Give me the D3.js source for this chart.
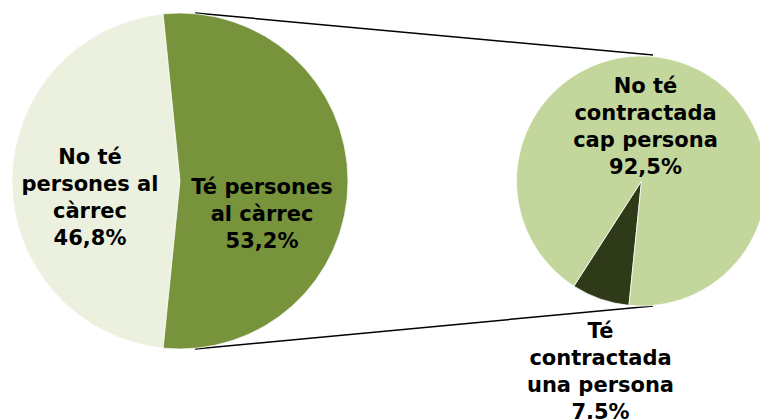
<!DOCTYPE html>
<html>
<head>
<meta charset="utf-8">
<script src="https://cdn.jsdelivr.net/npm/d3@7"></script>
<style>
  body { margin: 0; background: #fff; }
  text { font-family: "DejaVu Sans", Verdana, sans-serif; font-weight: bold; font-size: 21px; fill: #000; }
</style>
</head>
<body>
<div class="chart"></div>
<script>
// first pie
const mainCategories = ["No té persones al càrrec", "Té persones al càrrec"];
const mainValues = [46.8, 53.2];
const mainLabels = [["No té", "persones al", "càrrec", "46,8%"], ["Té persones", "al càrrec", "53,2%"]];

// second pie (breakdown of "Té persones al càrrec")
const subCategories = ["Té contractada una persona", "No té contractada cap persona"];
const subValues = [7.5, 92.5];
const subLabels = [["Té", "contractada", "una persona", "7,5%"], ["No té", "contractada", "cap persona", "92,5%"]];

document.addEventListener("DOMContentLoaded", () => {
    const width = 760;
    const height = 419;
    const lineH = 27;
    const startAngle = 185.75 * Math.PI / 180;

    const svg = d3.select(".chart")
        .append("svg")
        .attr("width", width)
        .attr("height", height);

    const pie = d3.pie()
        .sort(null)
        .value(d => d)
        .startAngle(startAngle)
        .endAngle(startAngle + 2 * Math.PI);

    const main = { cx: 180, cy: 181, r: 168, colors: ["#EBF1DE", "#77933C"] };
    const sub = { cx: 641.5, cy: 181, r: 125, colors: ["#2F3A19", "#C3D69B"] };

    // connector lines between the pies
    svg.append("line")
        .attr("x1", main.cx + 15).attr("y1", main.cy - main.r)
        .attr("x2", sub.cx + 11.5).attr("y2", sub.cy - sub.r - 1)
        .attr("stroke", "#000").attr("stroke-width", 1.5);
    svg.append("line")
        .attr("x1", main.cx + 15).attr("y1", main.cy + main.r)
        .attr("x2", sub.cx + 11.5).attr("y2", sub.cy + sub.r)
        .attr("stroke", "#000").attr("stroke-width", 1.5);

    function drawPie(cfg, values, labels, offsets) {
        const g = svg.append("g").attr("transform", `translate(${cfg.cx},${cfg.cy})`);
        const arc = d3.arc().innerRadius(0).outerRadius(cfg.r);
        g.selectAll("path")
            .data(pie(values))
            .enter()
            .append("path")
            .attr("d", arc)
            .attr("fill", (d, i) => cfg.colors[i])
            .attr("stroke", "#fff")
            .attr("stroke-width", 0.75);

        labels.forEach((lines, i) => {
            const [dx, midY] = offsets[i];
            const y0 = midY - (lines.length - 1) * lineH / 2 + 7.5;
            const t = g.append("text").attr("text-anchor", "middle");
            lines.forEach((s, j) => {
                t.append("tspan").attr("x", dx).attr("y", y0 + j * lineH).text(s);
            });
        });
    }

    drawPie(main, mainValues, mainLabels, [[-90, 16], [82, 32]]);
    drawPie(sub, subValues, subLabels, [[-41, 190], [4, -55]]);
});
</script>
</body>
</html>
